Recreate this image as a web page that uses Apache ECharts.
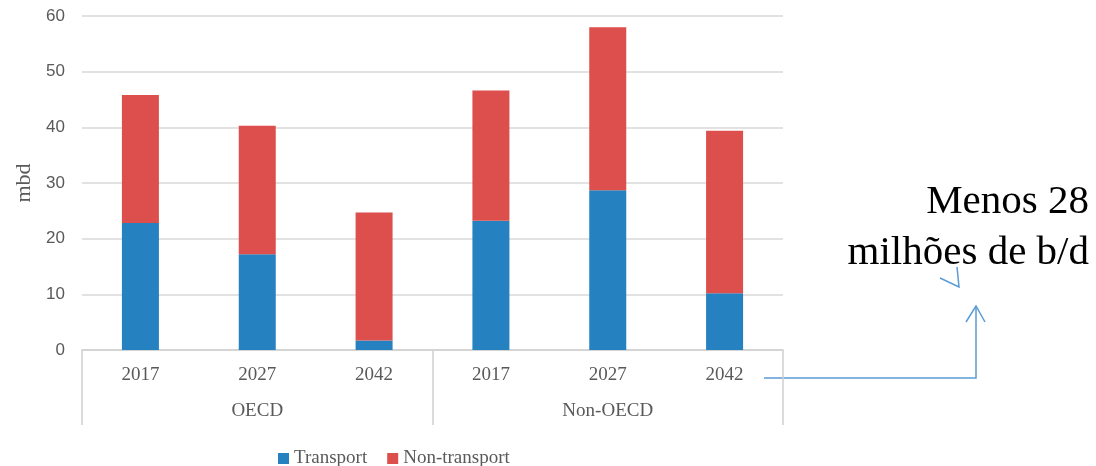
<!DOCTYPE html>
<html>
<head>
<meta charset="utf-8">
<script src="https://cdn.jsdelivr.net/npm/echarts@6/dist/echarts.min.js"></script>
<style>
  html, body { margin: 0; padding: 0; background: #fff; }
  #chart { width: 1096px; height: 466px; }
</style>
</head>
<body>
<div id="chart"></div>
<script>
(function () {

  // dados
  var years = ['2017', '2027', '2042', '2017', '2027', '2042'];
  var groups = ['OECD', 'Non-OECD'];
  var transport = [22.8, 17.2, 1.7, 23.2, 28.7, 10.2];
  var nonTransport = [23.0, 23.1, 23.0, 23.4, 29.3, 29.2];
  var yTicks = { min: 0, max: 60, step: 10 };

  var serif = '"Liberation Serif", "DejaVu Serif", serif';
  var grey = '#595959';
  var arrowBlue = '#5b9bd5';

  var myChart = echarts.init(document.getElementById('chart'));

  var option = {
    animation: false,
    grid: { left: 82, right: 313, top: 16, bottom: 116 },
    legend: {
      top: 444,
      left: 273,
      itemWidth: 11,
      itemHeight: 11,
      itemGap: 20,
      icon: 'rect',
      textStyle: { fontFamily: serif, fontSize: 19, color: grey },
      data: ['Transport', 'Non-transport']
    },
    xAxis: [{
      type: 'category',
      data: years,
      axisLine: { lineStyle: { color: '#d0d0d0', width: 1.5 } },
      axisTick: { show: false },
      axisLabel: { fontFamily: serif, fontSize: 19, color: grey, margin: 16 }
    }, {
      type: 'category',
      data: groups,
      position: 'bottom',
      boundaryGap: true,
      axisLine: { show: false },
      axisTick: {
        show: true,
        interval: 0,
        length: 75,
        lineStyle: { color: '#d0d0d0', width: 1.5 }
      },
      axisLabel: { fontFamily: serif, fontSize: 19, color: grey, margin: 52 }
    }],
    yAxis: {
      type: 'value',
      min: yTicks.min,
      max: yTicks.max,
      interval: yTicks.step,
      name: 'mbd',
      nameLocation: 'middle',
      nameGap: 46,
      nameRotate: 90,
      nameTextStyle: { fontFamily: serif, fontSize: 22, color: grey },
      axisLine: { show: false },
      axisTick: { show: false },
      axisLabel: { fontFamily: '"Liberation Sans", sans-serif', fontSize: 17, color: grey, margin: 17 },
      splitLine: { lineStyle: { color: '#d9d9d9', width: 1.5 } }
    },
    series: [{
      name: 'Transport',
      type: 'bar',
      stack: 'total',
      barWidth: 37,
      itemStyle: { color: '#2681c1' },
      data: transport
    }, {
      name: 'Non-transport',
      type: 'bar',
      stack: 'total',
      barWidth: 37,
      itemStyle: { color: '#dc4f4c' },
      data: nonTransport
    }],
    graphic: [{
      type: 'text',
      right: 7,
      top: 182,
      style: { text: 'Menos 28', font: '41px "Liberation Serif", serif', fill: '#000' }
    }, {
      type: 'text',
      right: 7,
      top: 233,
      style: { text: 'milhões de b/d', font: '41px "Liberation Serif", serif', fill: '#000' }
    }, {
      type: 'polyline',
      shape: { points: [[764, 378], [976, 378], [976, 306]] },
      style: { stroke: arrowBlue, lineWidth: 1.5, fill: null }
    }, {
      type: 'polyline',
      shape: { points: [[966, 322], [976, 306], [985, 322]] },
      style: { stroke: arrowBlue, lineWidth: 1.5, fill: null }
    }, {
      type: 'polyline',
      shape: { points: [[940, 278], [959, 287], [957, 267]] },
      style: { stroke: arrowBlue, lineWidth: 1.5, fill: null }
    }]
  };

  myChart.setOption(option);

})();
</script>
</body>
</html>
